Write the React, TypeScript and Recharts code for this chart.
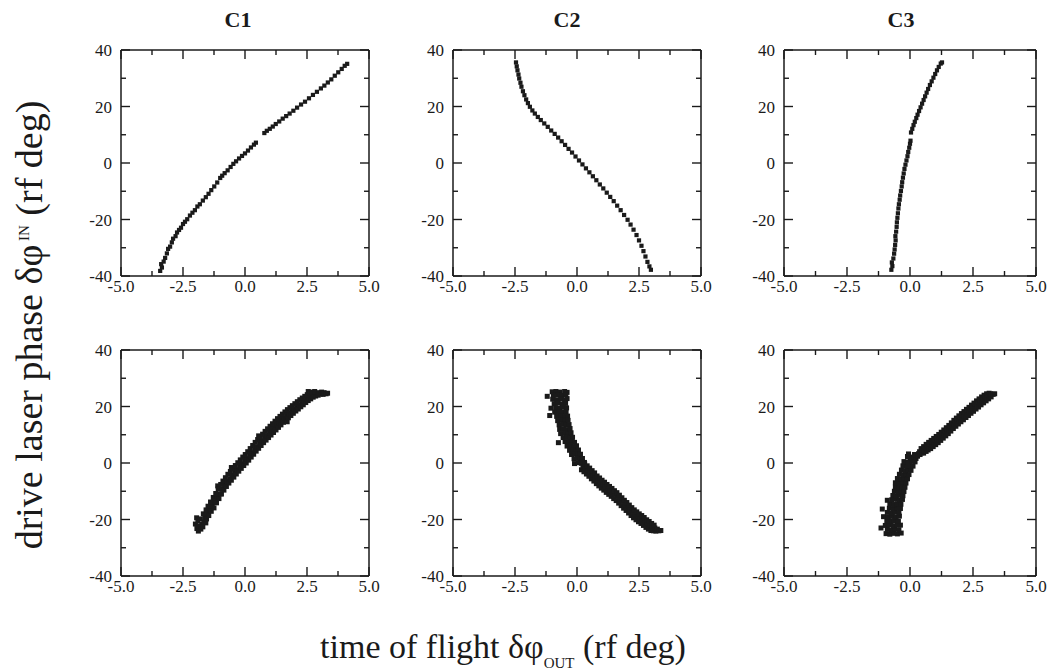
import React from 'react';
import { ScatterChart, Scatter, XAxis, YAxis } from 'recharts';

type Pt = [number, number];

const columnTitles = ['C1', 'C2', 'C3'];
const xTicks = [-5, -3.75, -2.5, -1.25, 0, 1.25, 2.5, 3.75, 5];
const xLabeled = [-5, -2.5, 0, 2.5, 5];
const yTicks = [-40, -30, -20, -10, 0, 10, 20, 30, 40];
const yLabeled = [-40, -20, 0, 20, 40];

// upper row: thin curves
const c1Upper: Pt[] = [
  [-3.42, -38.2], [-3.35, -37.0], [-3.38, -35.8], [-3.28, -34.9], [-3.22, -33.6], [-3.15, -32.0],
  [-3.10, -30.4], [-3.02, -29.6], [-2.95, -28.1], [-2.90, -26.8], [-2.80, -25.9], [-2.74, -24.6],
  [-2.66, -23.7], [-2.58, -22.9], [-2.50, -21.6], [-2.42, -20.8], [-2.33, -19.9], [-2.22, -18.6],
  [-2.12, -17.6], [-2.02, -16.7], [-1.92, -15.4], [-1.82, -14.6], [-1.70, -13.3], [-1.58, -12.1],
  [-1.47, -10.9], [-1.36, -9.6], [-1.24, -8.3], [-1.12, -6.9], [-1.00, -5.3], [-0.92, -4.5],
  [-0.82, -3.6], [-0.70, -2.6], [-0.58, -1.4], [-0.47, -0.3], [-0.36, 0.6], [-0.24, 1.6],
  [-0.12, 2.5], [0.00, 3.4], [0.12, 4.4], [0.24, 5.5], [0.36, 6.5], [0.44, 7.2],
  [0.78, 10.6], [0.88, 11.4], [1.00, 12.1], [1.12, 12.9], [1.24, 13.8], [1.38, 14.7],
  [1.52, 15.7], [1.66, 16.6], [1.80, 17.5], [1.95, 18.5], [2.10, 19.6], [2.26, 20.7],
  [2.42, 21.7], [2.58, 22.9], [2.74, 24.1], [2.90, 25.2], [3.06, 26.4], [3.20, 27.4],
  [3.34, 28.5], [3.48, 29.6], [3.62, 30.9], [3.76, 32.1], [3.90, 33.3], [4.02, 34.4], [4.12, 35.1],
];

const c2Upper: Pt[] = [
  [-2.46, 35.6], [-2.43, 34.2], [-2.40, 32.8], [-2.36, 31.3], [-2.33, 29.9], [-2.28, 28.4],
  [-2.24, 27.0], [-2.18, 25.4], [-2.12, 24.0], [-2.05, 22.5], [-1.98, 21.2], [-1.90, 19.9],
  [-1.80, 18.6], [-1.70, 17.5], [-1.58, 16.3], [-1.46, 15.2], [-1.32, 14.0], [-1.18, 12.8],
  [-1.04, 11.5], [-0.90, 10.3], [-0.76, 9.0], [-0.62, 7.7], [-0.48, 6.4], [-0.34, 5.0],
  [-0.20, 3.7], [-0.06, 2.3], [0.08, 0.9], [0.22, -0.5], [0.36, -1.9], [0.50, -3.3],
  [0.64, -4.7], [0.78, -6.1], [0.92, -7.6], [1.06, -9.0], [1.20, -10.5], [1.34, -12.0],
  [1.48, -13.5], [1.62, -15.1], [1.76, -16.7], [1.90, -18.4], [2.04, -20.1], [2.16, -21.8],
  [2.28, -23.6], [2.40, -25.5], [2.50, -27.4], [2.60, -29.3], [2.68, -31.2], [2.76, -33.1],
  [2.84, -35.0], [2.92, -36.6], [2.98, -37.8],
];

const c3Upper: Pt[] = [
  [-0.74, -37.8], [-0.70, -36.5], [-0.72, -35.2], [-0.66, -33.8], [-0.63, -32.1], [-0.61, -30.6],
  [-0.59, -29.0], [-0.57, -27.4], [-0.58, -25.9], [-0.55, -24.3], [-0.53, -22.6], [-0.52, -21.0],
  [-0.50, -19.4], [-0.48, -17.8], [-0.46, -16.1], [-0.44, -14.6], [-0.41, -13.0], [-0.39, -11.5],
  [-0.36, -9.9], [-0.33, -8.3], [-0.31, -6.8], [-0.28, -5.2], [-0.25, -3.7], [-0.22, -2.1],
  [-0.18, -0.6], [-0.14, 0.9], [-0.10, 2.4], [-0.07, 3.9], [-0.03, 5.4], [0.00, 6.8], [0.02, 7.9],
  [0.04, 10.8], [0.09, 12.1], [0.14, 13.4], [0.19, 14.6], [0.25, 15.9], [0.30, 17.1],
  [0.36, 18.4], [0.42, 19.7], [0.48, 21.0], [0.54, 22.3], [0.60, 23.6], [0.66, 24.9],
  [0.72, 26.2], [0.79, 27.6], [0.86, 28.9], [0.93, 30.2], [1.00, 31.5], [1.07, 32.8],
  [1.14, 34.0], [1.22, 35.2], [1.27, 35.6],
];

// lower row: thick bands
const c1Lower: Pt[] = [
  [-2.00, -21.6], [-1.94, -23.2], [-1.88, -24.1], [-1.86, -22.4], [-1.90, -20.6], [-1.95, -19.4],
  [-1.78, -23.4], [-1.74, -21.7], [-1.80, -19.8], [-1.70, -22.6],
  [-1.66, -20.9], [-1.62, -19.3], [-1.68, -18.0], [-1.58, -21.2],
  [-1.55, -19.8], [-1.51, -18.1], [-1.57, -16.6],
  [-1.46, -18.6], [-1.42, -16.8], [-1.49, -15.3],
  [-1.36, -17.1], [-1.32, -15.2], [-1.39, -13.8],
  [-1.25, -15.9], [-1.21, -13.8], [-1.28, -12.2],
  [-1.15, -14.1], [-1.11, -12.4], [-1.18, -10.8], [-1.10, -8.1],
  [-1.05, -12.6], [-1.00, -10.9], [-1.08, -9.1],
  [-0.95, -11.0], [-0.91, -9.3], [-0.98, -7.6],
  [-0.85, -9.6], [-0.81, -7.9], [-0.89, -6.4],
  [-0.75, -8.3], [-0.71, -6.6], [-0.79, -5.2],
  [-0.65, -7.1], [-0.61, -5.6], [-0.69, -4.0],
  [-0.55, -6.1], [-0.51, -4.4], [-0.59, -3.0], [-0.55, -1.6],
  [-0.45, -5.0], [-0.41, -3.4], [-0.49, -2.0],
  [-0.35, -3.9], [-0.31, -2.4], [-0.39, -0.9],
  [-0.25, -2.9], [-0.21, -1.3], [-0.29, 0.1],
  [-0.15, -1.9], [-0.11, -0.4], [-0.19, 1.1],
  [-0.05, -0.9], [-0.01, 0.6], [-0.09, 2.1],
  [0.05, 0.0], [0.09, 1.5], [0.01, 3.0],
  [0.15, 1.0], [0.19, 2.6], [0.11, 4.0],
  [0.25, 2.1], [0.29, 3.6], [0.21, 5.1],
  [0.35, 3.1], [0.39, 4.7], [0.31, 6.2],
  [0.45, 4.2], [0.49, 5.7], [0.41, 7.3],
  [0.55, 5.2], [0.59, 6.8], [0.51, 8.3], [0.55, 9.6],
  [0.65, 6.2], [0.69, 7.8], [0.61, 9.3],
  [0.75, 7.2], [0.79, 8.8], [0.71, 10.2],
  [0.85, 8.1], [0.89, 9.7], [0.81, 11.2],
  [0.95, 9.0], [0.99, 10.6], [0.91, 12.1],
  [1.05, 9.9], [1.09, 11.5], [1.01, 13.0],
  [1.15, 10.8], [1.19, 12.4], [1.11, 13.9],
  [1.25, 11.7], [1.29, 13.3], [1.21, 14.8],
  [1.35, 12.6], [1.39, 14.2], [1.31, 15.7],
  [1.45, 13.5], [1.49, 15.1], [1.41, 16.5],
  [1.55, 14.4], [1.59, 15.9], [1.51, 17.3],
  [1.65, 15.2], [1.69, 16.7], [1.61, 18.1], [1.70, 14.6],
  [1.75, 16.0], [1.79, 17.5], [1.71, 18.9],
  [1.85, 16.8], [1.89, 18.3], [1.81, 19.6],
  [1.95, 17.6], [1.99, 19.0], [1.91, 20.3],
  [2.05, 18.4], [2.09, 19.7], [2.01, 21.0],
  [2.15, 19.1], [2.19, 20.4], [2.11, 21.7],
  [2.25, 19.9], [2.29, 21.1], [2.21, 22.4],
  [2.35, 20.6], [2.39, 21.8], [2.31, 23.0],
  [2.45, 21.4], [2.49, 22.5], [2.41, 23.6],
  [2.55, 22.1], [2.59, 23.1], [2.51, 24.2], [2.55, 25.3],
  [2.65, 22.7], [2.69, 23.7], [2.61, 24.7],
  [2.75, 23.3], [2.79, 24.2], [2.71, 25.1],
  [2.85, 23.7], [2.89, 24.6], [2.81, 25.3],
  [2.95, 24.0], [2.99, 24.9], [3.05, 24.4], [3.09, 25.1], [3.15, 24.3], [3.19, 24.9],
  [3.27, 24.5], [3.33, 24.7],
];

const c2Lower: Pt[] = [
  [-1.00, 25.2], [-0.85, 25.3], [-0.70, 25.1], [-0.50, 25.3], [-0.40, 25.0],
  [-0.95, 24.0], [-0.78, 24.2], [-0.62, 23.9], [-0.45, 24.1], [-1.20, 23.6],
  [-0.98, 22.6], [-0.82, 22.4], [-0.66, 22.7], [-0.50, 22.3], [-0.40, 22.8],
  [-0.92, 21.0], [-0.76, 21.2], [-0.60, 20.9], [-0.46, 21.1],
  [-1.05, 19.4], [-0.86, 19.6], [-0.70, 19.3], [-0.55, 19.7], [-0.42, 19.5],
  [-0.90, 18.0], [-0.74, 18.2], [-0.58, 17.9], [-0.44, 18.1],
  [-1.10, 16.8], [-0.82, 16.5], [-0.66, 16.7], [-0.50, 16.4], [-0.38, 16.6],
  [-0.78, 15.0], [-0.62, 15.2], [-0.48, 14.9], [-0.36, 15.1],
  [-0.72, 13.5], [-0.58, 13.7], [-0.44, 13.4], [-0.32, 13.6],
  [-0.70, 11.9], [-0.55, 12.1], [-0.40, 11.8], [-0.28, 12.2],
  [-0.66, 10.4], [-0.50, 10.6], [-0.36, 10.3], [-0.24, 10.7],
  [-0.56, 9.0], [-0.42, 9.2], [-0.30, 8.9], [-0.18, 9.1],
  [-0.75, 7.2], [-0.48, 7.6], [-0.34, 7.4], [-0.20, 7.7], [-0.10, 7.3],
  [-0.40, 6.0], [-0.26, 6.2], [-0.14, 5.8], [-0.02, 6.1],
  [-0.30, 4.5], [-0.16, 4.7], [-0.04, 4.3], [0.06, 4.6],
  [-0.22, 3.0], [-0.08, 3.2], [0.04, 2.9], [0.14, 3.1],
  [-0.12, 1.5], [0.00, 1.7], [0.12, 1.3], [0.22, 1.6],
  [-0.10, -0.2], [0.06, 0.1], [0.18, -0.1], [0.30, 0.2],
  [0.18, -2.4], [0.24, -0.9], [0.21, 0.4],
  [0.28, -3.1], [0.34, -1.6], [0.31, -0.3],
  [0.38, -3.9], [0.44, -2.4], [0.41, -1.0],
  [0.48, -4.7], [0.54, -3.1], [0.51, -1.8],
  [0.58, -5.6], [0.64, -4.1], [0.61, -2.7],
  [0.68, -6.4], [0.74, -4.9], [0.71, -3.5],
  [0.78, -7.3], [0.84, -5.8], [0.81, -4.6],
  [0.88, -8.1], [0.94, -6.6], [0.91, -5.3],
  [0.98, -8.9], [1.04, -7.4], [1.01, -6.1],
  [1.08, -9.6], [1.14, -8.1], [1.11, -6.8],
  [1.18, -10.4], [1.24, -8.9], [1.21, -7.6],
  [1.28, -11.1], [1.34, -9.6], [1.31, -8.3],
  [1.38, -11.8], [1.44, -10.3], [1.41, -9.0],
  [1.48, -12.6], [1.54, -11.1], [1.51, -9.8],
  [1.58, -13.3], [1.64, -11.8], [1.61, -10.5],
  [1.68, -14.2], [1.74, -12.7], [1.71, -11.4],
  [1.78, -15.1], [1.84, -13.6], [1.81, -12.3],
  [1.88, -16.0], [1.94, -14.5], [1.91, -13.2],
  [1.98, -16.8], [2.04, -15.3], [2.01, -14.0],
  [2.08, -17.7], [2.14, -16.2], [2.11, -14.9],
  [2.18, -18.6], [2.24, -17.1], [2.21, -15.8],
  [2.28, -19.4], [2.34, -17.9], [2.31, -16.6],
  [2.38, -20.1], [2.44, -18.6], [2.41, -17.3],
  [2.48, -20.8], [2.54, -19.3], [2.51, -18.0],
  [2.58, -21.4], [2.64, -19.9], [2.61, -18.6],
  [2.68, -22.1], [2.74, -20.6], [2.71, -19.3],
  [2.78, -22.8], [2.84, -21.3], [2.81, -20.1],
  [2.88, -23.4], [2.94, -21.9], [2.91, -20.7],
  [2.98, -23.9], [3.04, -22.5], [3.01, -21.4],
  [3.08, -24.0], [3.14, -23.0], [3.11, -22.0],
  [3.18, -24.1], [3.24, -23.4], [3.30, -24.0], [3.38, -23.9],
];

const c3Lower: Pt[] = [
  [-0.95, -25.0], [-0.80, -25.2], [-0.65, -24.9], [-0.50, -25.1], [-0.35, -24.8],
  [-0.90, -23.5], [-0.74, -23.7], [-0.60, -23.4], [-0.44, -23.6], [-1.15, -23.0],
  [-0.98, -22.1], [-0.82, -21.9], [-0.66, -22.2], [-0.50, -21.8], [-0.38, -22.0],
  [-0.92, -20.5], [-0.76, -20.7], [-0.62, -20.4], [-0.46, -20.6],
  [-1.05, -19.0], [-0.86, -19.2], [-0.70, -18.9], [-0.55, -19.1], [-0.42, -18.8],
  [-0.90, -17.5], [-0.74, -17.7], [-0.58, -17.4], [-0.44, -17.6],
  [-1.10, -16.3], [-0.82, -16.0], [-0.66, -16.2], [-0.50, -15.9], [-0.38, -16.1],
  [-0.80, -14.5], [-0.64, -14.7], [-0.50, -14.4], [-0.36, -14.6],
  [-0.90, -13.2], [-0.72, -13.0], [-0.56, -12.8], [-0.42, -13.1], [-0.30, -12.9],
  [-0.68, -11.5], [-0.54, -11.7], [-0.40, -11.4], [-0.28, -11.6],
  [-0.62, -10.0], [-0.48, -10.2], [-0.36, -9.9], [-0.24, -10.1],
  [-0.58, -8.5], [-0.44, -8.7], [-0.32, -8.4], [-0.20, -8.6],
  [-0.58, -7.0], [-0.42, -7.2], [-0.28, -6.9], [-0.16, -7.1],
  [-0.50, -5.5], [-0.36, -5.7], [-0.22, -5.4], [-0.10, -5.6],
  [-0.42, -4.0], [-0.28, -4.2], [-0.16, -3.9], [-0.04, -4.1],
  [-0.34, -2.5], [-0.20, -2.7], [-0.08, -2.4], [0.04, -2.6],
  [-0.28, -1.0], [-0.12, -1.2], [0.00, -0.9], [0.12, -1.1],
  [-0.24, 0.5], [-0.06, 0.3], [0.08, 0.6], [0.20, 0.4],
  [-0.10, 2.3], [0.00, 1.8], [0.14, 2.1], [0.24, 1.6],
  [-0.06, 3.2], [0.18, 3.0], [0.34, 3.3], [0.30, 2.4],
  [0.40, 3.0], [0.38, 4.0], [0.44, 5.1], [0.46, 3.6],
  [0.54, 3.5], [0.48, 4.7], [0.54, 5.8], [0.56, 4.2],
  [0.64, 4.1], [0.58, 5.5], [0.64, 6.6], [0.66, 4.8],
  [0.72, 4.6], [0.68, 6.2], [0.74, 7.3], [0.76, 5.5],
  [0.82, 5.1], [0.78, 6.9], [0.84, 8.0], [0.86, 6.2],
  [0.92, 5.8], [0.88, 7.6], [0.94, 8.7], [0.96, 6.9],
  [1.02, 6.5], [0.98, 8.3], [1.04, 9.4], [1.06, 7.6],
  [1.12, 7.2], [1.08, 9.0], [1.14, 10.1], [1.16, 8.3],
  [1.22, 8.0], [1.18, 9.8], [1.24, 10.9], [1.26, 9.1],
  [1.32, 8.8], [1.28, 10.6], [1.34, 11.7], [1.36, 9.9],
  [1.42, 9.6], [1.38, 11.4], [1.44, 12.5], [1.46, 10.7],
  [1.52, 10.4], [1.48, 12.2], [1.54, 13.3], [1.56, 11.6],
  [1.62, 11.3], [1.58, 13.1], [1.64, 14.2], [1.66, 12.5],
  [1.72, 12.2], [1.68, 14.0], [1.74, 15.1], [1.76, 13.4],
  [1.82, 13.0], [1.78, 14.8], [1.84, 15.9], [1.86, 14.2],
  [1.92, 13.8], [1.88, 15.6], [1.94, 16.7], [1.96, 15.0],
  [2.02, 14.6], [1.98, 16.4], [2.04, 17.5], [2.06, 15.8],
  [2.12, 15.3], [2.08, 17.1], [2.14, 18.2], [2.16, 16.5],
  [2.22, 16.1], [2.18, 17.9], [2.24, 19.0], [2.26, 17.3],
  [2.32, 16.8], [2.28, 18.6], [2.34, 19.7], [2.36, 18.0],
  [2.42, 17.6], [2.38, 19.4], [2.44, 20.5], [2.46, 18.8],
  [2.52, 18.3], [2.48, 20.1], [2.54, 21.2], [2.56, 19.5],
  [2.62, 19.1], [2.58, 20.9], [2.64, 22.0], [2.66, 20.3],
  [2.72, 19.8], [2.68, 21.6], [2.74, 22.7], [2.76, 21.0],
  [2.82, 20.6], [2.78, 22.3], [2.84, 23.4], [2.86, 21.7],
  [2.92, 21.3], [2.88, 23.0], [2.94, 24.0], [2.96, 22.4],
  [3.02, 22.0], [2.98, 23.6], [3.04, 24.5], [3.06, 23.1],
  [3.12, 22.7], [3.08, 24.1], [3.14, 24.7], [3.16, 23.6],
  [3.22, 23.4], [3.20, 24.5], [3.30, 24.3], [3.36, 24.5],
];

const panels: Pt[][][] = [
  [c1Upper, c2Upper, c3Upper],
  [c1Lower, c2Lower, c3Lower],
];

const ink = '#1a1a1a';
const serif = '"Liberation Serif", "DejaVu Serif", serif';

const colLeft = [121, 453, 784];
const colWidth = [248, 248, 252];
const rowTop = [50, 350];
const plotH = 226;
// axis bands: left 44, right 12, top 8, bottom 28, plus a 2px chart margin all round
const AX = { left: 44, right: 12, top: 8, bottom: 28 };
const PAD = 2;

const BottomTick = (props: any) => {
  const { x, y, payload } = props;
  const major = xLabeled.includes(payload.value);
  return (
    <g>
      <line x1={x} y1={y} x2={x} y2={y - (major ? 9 : 5)} stroke={ink} strokeWidth={1.4} />
      {major && (
        <text x={x} y={y + 16} textAnchor="middle" fontSize={17} fill={ink} fontFamily={serif}>
          {payload.value.toFixed(1)}
        </text>
      )}
    </g>
  );
};

const TopTick = (props: any) => {
  const { x, y, payload } = props;
  const major = xLabeled.includes(payload.value);
  return <line x1={x} y1={y} x2={x} y2={y + (major ? 9 : 5)} stroke={ink} strokeWidth={1.4} />;
};

const LeftTick = (props: any) => {
  const { x, y, payload } = props;
  const major = yLabeled.includes(payload.value);
  return (
    <g>
      <line x1={x} y1={y} x2={x + (major ? 9 : 5)} y2={y} stroke={ink} strokeWidth={1.4} />
      {major && (
        <text x={x - 9} y={y + 6} textAnchor="end" fontSize={17} fill={ink} fontFamily={serif}>
          {String(payload.value)}
        </text>
      )}
    </g>
  );
};

const RightTick = (props: any) => {
  const { x, y, payload } = props;
  const major = yLabeled.includes(payload.value);
  return <line x1={x} y1={y} x2={x - (major ? 9 : 5)} y2={y} stroke={ink} strokeWidth={1.4} />;
};

const Panel = ({ pts, row, col }: { pts: Pt[]; row: number; col: number }) => {
  const w = colWidth[col] + AX.left + AX.right + PAD * 2;
  const h = plotH + AX.top + AX.bottom + PAD * 2;
  const s = row === 0 ? 4.2 : 5;
  const data = pts.map(([x, y]) => ({ x, y }));
  const axisLine = { stroke: ink, strokeWidth: 1.5 };
  return (
    <div style={{ position: 'absolute', left: colLeft[col] - AX.left - PAD, top: rowTop[row] - AX.top - PAD }}>
      <ScatterChart width={w} height={h} margin={{ top: PAD, right: PAD, bottom: PAD, left: PAD }}>
        <XAxis
          type="number" dataKey="x" domain={[-5, 5]} ticks={xTicks} allowDataOverflow interval={0}
          height={AX.bottom} tickSize={0} tickMargin={0} tickLine={false} axisLine={axisLine} tick={BottomTick}
        />
        <XAxis
          xAxisId="top" orientation="top" type="number" dataKey="x" domain={[-5, 5]} ticks={xTicks}
          allowDataOverflow interval={0} height={AX.top} tickSize={0} tickMargin={0} tickLine={false}
          axisLine={axisLine} tick={TopTick}
        />
        <YAxis
          type="number" dataKey="y" domain={[-40, 40]} ticks={yTicks} allowDataOverflow interval={0}
          width={AX.left} tickSize={0} tickMargin={0} tickLine={false} axisLine={axisLine} tick={LeftTick}
        />
        <YAxis
          yAxisId="right" orientation="right" type="number" dataKey="y" domain={[-40, 40]} ticks={yTicks}
          allowDataOverflow interval={0} width={AX.right} tickSize={0} tickMargin={0} tickLine={false}
          axisLine={axisLine} tick={RightTick}
        />
        <Scatter
          data={data}
          isAnimationActive={false}
          shape={(p: any) => <rect x={p.cx - s / 2} y={p.cy - s / 2} width={s} height={s} fill={ink} />}
        />
      </ScatterChart>
    </div>
  );
};

const titleX = [238, 567, 901];

export default function App() {
  return (
    <div style={{ position: 'absolute', left: 0, top: 0, width: 1050, height: 670, background: '#fff', overflow: 'hidden' }}>
      {panels.map((row, r) =>
        row.map((pts, c) => <Panel key={`${r}-${c}`} pts={pts} row={r} col={c} />)
      )}
      <svg width={1050} height={670} style={{ position: 'absolute', left: 0, top: 0, pointerEvents: 'none' }}>
        {columnTitles.map((t, i) => (
          <text key={t} x={titleX[i]} y={27} textAnchor="middle" fontSize={22} fontWeight="bold" fill={ink} fontFamily={serif}>
            {t}
          </text>
        ))}
        <text transform="translate(42, 325) rotate(-90)" textAnchor="middle" fontSize={38} fill={ink} fontFamily={serif}>
          drive laser phase  δφ
          <tspan fontSize={15} dy={-13}> IN</tspan>
          <tspan dy={13}> (rf deg)</tspan>
        </text>
        <text x={503} y={658} textAnchor="middle" fontSize={34} fill={ink} fontFamily={serif}>
          time of flight δφ
          <tspan fontSize={15} dy={10}>OUT</tspan>
          <tspan dy={-10}> (rf deg)</tspan>
        </text>
      </svg>
    </div>
  );
}
